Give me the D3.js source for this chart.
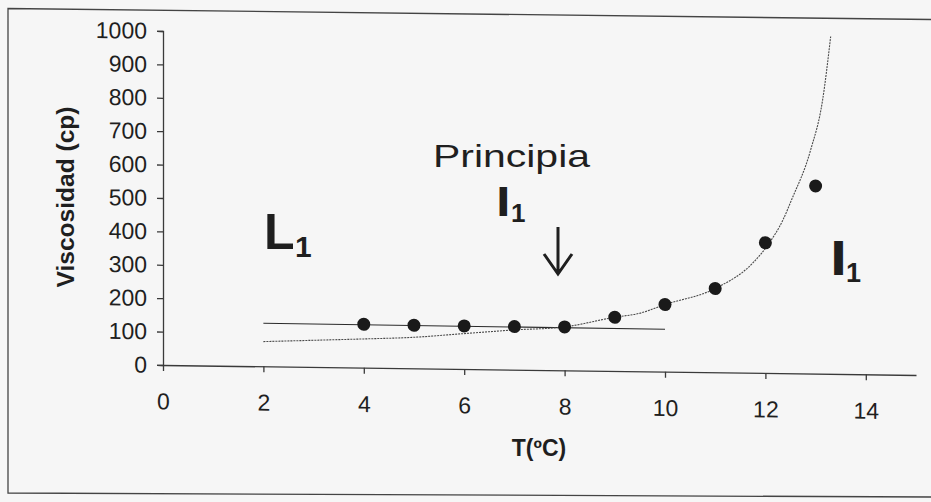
<!DOCTYPE html>
<html>
<head>
<meta charset="utf-8">
<script src="https://cdn.jsdelivr.net/npm/d3@7"></script>
<style>
  html, body { margin: 0; padding: 0; background: #f6f6f6; }
  svg { display: block; }
  text { font-family: "Liberation Sans", Arial, Helvetica, sans-serif; fill: #1f1f1f; }
</style>
</head>
<body>
<svg id="chart" width="931" height="502"></svg>
<script>
// Measured viscosity (cp) against temperature (ºC)
const temps = [4, 5, 6, 7, 8, 9, 10, 11, 12, 13];
const viscosity = [130, 129, 129, 129, 130, 161, 201, 251, 390, 562];

// Straight line through the low-temperature plateau
const plateauT = [2, 10];
const plateauV = [129, 127];

// Fitted curve, sampled along its trace
const fitT = [2, 3, 4, 5, 6, 7, 8, 9, 9.5, 10, 11, 11.75, 12.08, 12.35, 12.52, 12.9, 13.14, 13.3];
const fitV = [74, 80, 86, 93, 106, 119, 130, 161, 174, 201, 251, 329, 390, 459, 519, 669, 820, 1010];

// Axis ticks
const xTicks = [0, 2, 4, 6, 8, 10, 12, 14];
const yTicks = [0, 100, 200, 300, 400, 500, 600, 700, 800, 900, 1000];

const svg = d3.select("#chart");
const ink = "#1f1f1f";

// Page frame
svg.append("path")
  .attr("d", "M931,19.5 L8,8.5 L8,493 L931,497")
  .attr("fill", "none")
  .attr("stroke", "#444")
  .attr("stroke-width", 1.3);

const x = d3.scaleLinear().domain([0, 15]).range([163, 916]);
const y = d3.scaleLinear().domain([0, 1000]).range([365, 31]);

// The plot body leans slightly, as on the printed page
const g = svg.append("g")
  .attr("transform", "translate(163,0) skewY(0.76) translate(-163,0)");

const plain = d => String(d);

const yAxis = g.append("g")
  .attr("transform", `translate(${x(0)},0)`)
  .call(d3.axisLeft(y).tickValues(yTicks).tickFormat(plain)
    .tickSize(6).tickSizeOuter(6).tickPadding(10));

const xAxis = g.append("g")
  .attr("transform", `translate(0,${y(0)})`)
  .call(d3.axisBottom(x).tickValues(xTicks).tickFormat(plain)
    .tickSize(6).tickSizeOuter(0).tickPadding(22));

[yAxis, xAxis].forEach(a => {
  a.selectAll("path, line").attr("stroke", "#3a3a3a").attr("stroke-width", 1.3);
  a.selectAll("text")
    .style("font-family", '"Liberation Sans", Arial, sans-serif')
    .style("font-size", "23px")
    .attr("fill", ink);
});

// Plateau line
const line = d3.line().x(d => x(d[0])).y(d => y(d[1]));
g.append("path")
  .datum(d3.zip(plateauT, plateauV))
  .attr("d", line)
  .attr("fill", "none")
  .attr("stroke", "#2a2a2a")
  .attr("stroke-width", 1.1);

// Fitted curve
g.append("path")
  .datum(d3.zip(fitT, fitV))
  .attr("d", line.curve(d3.curveMonotoneX))
  .attr("fill", "none")
  .attr("stroke", "#4a4a4a")
  .attr("stroke-width", 1.1)
  .attr("stroke-dasharray", "2,1");

// Data points
g.selectAll("circle.pt")
  .data(d3.zip(temps, viscosity))
  .join("circle")
  .attr("class", "pt")
  .attr("cx", d => x(d[0]))
  .attr("cy", d => y(d[1]))
  .attr("r", 6.5)
  .attr("fill", "#1a1a1a");

// Axis titles
svg.append("text")
  .attr("transform", "translate(74,197) rotate(-90)")
  .attr("text-anchor", "middle")
  .attr("font-size", 23)
  .attr("font-weight", "bold")
  .attr("textLength", 181)
  .attr("lengthAdjust", "spacingAndGlyphs")
  .text("Viscosidad (cp)");

svg.append("text")
  .attr("x", 539)
  .attr("y", 456)
  .attr("text-anchor", "middle")
  .attr("font-size", 23)
  .attr("font-weight", "bold")
  .text("T(ºC)");

// Annotations
svg.append("text")
  .attr("x", 433).attr("y", 167)
  .attr("font-size", 32)
  .attr("textLength", 157)
  .attr("lengthAdjust", "spacingAndGlyphs")
  .text("Principia");

function labelWithSub(main, sub, mx, my, msize, sx, sy, ssize, thick) {
  svg.append("text")
    .attr("x", mx).attr("y", my)
    .attr("font-size", msize)
    .attr("font-weight", "bold")
    .attr("stroke", thick ? ink : "none")
    .attr("stroke-width", thick || 0)
    .text(main);
  svg.append("text")
    .attr("x", sx).attr("y", sy)
    .attr("font-size", ssize)
    .attr("font-weight", "bold")
    .text(sub);
}

labelWithSub("L", "1", 264, 249, 50, 295, 257, 30, 0);
labelWithSub("I", "1", 498, 215, 38, 511, 222, 26, 2);
labelWithSub("I", "1", 832, 274, 47, 846, 282, 27, 2);

// Arrow pointing at the onset
svg.append("path")
  .attr("d", "M558,227 L558,272 M544,254 L558,274 L572,254")
  .attr("fill", "none")
  .attr("stroke", ink)
  .attr("stroke-width", 3)
  .attr("stroke-linejoin", "miter");
</script>
</body>
</html>
